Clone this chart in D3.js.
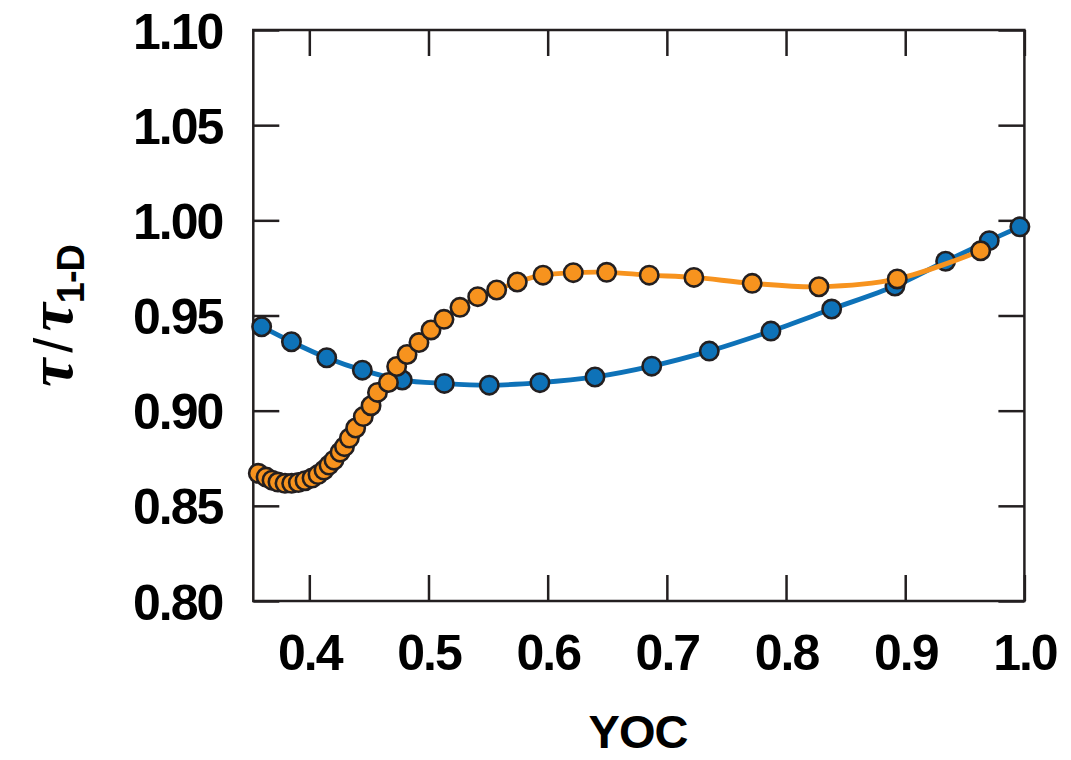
<!DOCTYPE html>
<html>
<head>
<meta charset="utf-8">
<script src="https://cdn.jsdelivr.net/npm/d3@7"></script>
<style>
  html, body { margin: 0; padding: 0; background: #fff; }
  svg { display: block; }
  .tick-label { font-family: "Liberation Sans", Arial, sans-serif; font-weight: bold; font-size: 50px; letter-spacing: -2px; fill: #000; }
</style>
</head>
<body>
<svg id="chart" width="1071" height="760"></svg>
<script>
// Normalized relaxation time vs YOC for two series
const blueX = [0.360, 0.385, 0.4146, 0.4445, 0.478, 0.5133, 0.551, 0.5935, 0.6397, 0.6873,
               0.7356, 0.7873, 0.8383, 0.8914, 0.9339, 0.9705, 0.9962];
const blueY = [0.9441, 0.9362, 0.9278, 0.9213, 0.9161, 0.9143, 0.9134, 0.9147, 0.9177, 0.9234,
               0.9313, 0.9418, 0.9534, 0.9655, 0.9785, 0.9893, 0.9966];

const orangeX = [0.3572, 0.3637, 0.3687, 0.3737, 0.3796, 0.3852, 0.3908, 0.3964, 0.4023, 0.4073,
                 0.4123, 0.4165, 0.4207, 0.4258, 0.4295, 0.4336, 0.4389, 0.4453, 0.4518, 0.4572,
                 0.4664, 0.4733, 0.4820, 0.4920, 0.5021, 0.5130, 0.5264, 0.5413, 0.5572, 0.5745,
                 0.5961, 0.6215, 0.6495, 0.6852, 0.7227, 0.7716, 0.8276, 0.8933, 0.9633];
const orangeY = [0.8671, 0.8651, 0.8635, 0.8625, 0.8618, 0.8618, 0.8622, 0.8632, 0.8646, 0.8664,
                 0.8688, 0.8714, 0.8740, 0.8782, 0.8811, 0.8856, 0.8909, 0.8969, 0.9026, 0.9096,
                 0.9148, 0.9232, 0.9295, 0.9358, 0.9424, 0.9480, 0.9543, 0.9599, 0.9634, 0.9676,
                 0.9712, 0.9725, 0.9727, 0.9712, 0.9700, 0.9669, 0.9651, 0.9692, 0.9840];

const xTicks = [0.4, 0.5, 0.6, 0.7, 0.8, 0.9, 1.0];
const yTicks = [0.80, 0.85, 0.90, 0.95, 1.00, 1.05, 1.10];

const BLUE = "#0e72b8";
const ORANGE = "#f7931e";
const INK = "#231f20";

const plotLeft = 253.3, plotRight = 1024.4, plotTop = 30, plotBottom = 601;
const svg = d3.select("#chart");

const x = d3.scaleLinear().domain([0.353, 1.0]).range([plotLeft, plotRight]);
const y = d3.scaleLinear().domain([0.80, 1.10]).range([plotBottom, plotTop]);

const tickLen = 26;

// Axes: labels on bottom/left, inward ticks on all four sides
const axisStyle = g => {
  g.select(".domain").remove();
  g.selectAll(".tick line").attr("stroke", INK).attr("stroke-width", 2.5);
};

svg.append("g").attr("transform", `translate(0,${plotBottom})`)
  .call(d3.axisBottom(x).tickValues(xTicks).tickSize(-tickLen)
        .tickFormat(d3.format(".1f")))
  .call(axisStyle)
  .call(g => g.selectAll("text").attr("class", "tick-label").attr("dy", 0).attr("y", 69));

svg.append("g").attr("transform", `translate(0,${plotTop})`)
  .call(d3.axisTop(x).tickValues(xTicks).tickSize(-tickLen).tickFormat(""))
  .call(axisStyle);

svg.append("g").attr("transform", `translate(${plotLeft},0)`)
  .call(d3.axisLeft(y).tickValues(yTicks).tickSize(-tickLen).tickFormat(d3.format(".2f")))
  .call(axisStyle)
  .call(g => g.selectAll("text").attr("class", "tick-label").attr("x", -31).attr("dy", "0.36em"));

svg.append("g").attr("transform", `translate(${plotRight},0)`)
  .call(d3.axisRight(y).tickValues(yTicks).tickSize(-tickLen).tickFormat(""))
  .call(axisStyle);

// Frame
svg.append("rect")
  .attr("x", plotLeft).attr("y", plotTop)
  .attr("width", plotRight - plotLeft).attr("height", plotBottom - plotTop)
  .attr("fill", "none").attr("stroke", INK).attr("stroke-width", 2.5);

const line = d3.line()
  .x(d => x(d[0])).y(d => y(d[1]))
  .curve(d3.curveCatmullRom.alpha(0.5));

function drawSeries(xs, ys, color) {
  const pts = xs.map((v, i) => [v, ys[i]]);
  svg.append("path").datum(pts)
    .attr("d", line)
    .attr("fill", "none").attr("stroke", color).attr("stroke-width", 4.8);
  svg.append("g").selectAll("circle").data(pts).join("circle")
    .attr("cx", d => x(d[0])).attr("cy", d => y(d[1]))
    .attr("r", 9.2)
    .attr("fill", color).attr("stroke", INK).attr("stroke-width", 2.6);
}

drawSeries(blueX, blueY, BLUE);
drawSeries(orangeX, orangeY, ORANGE);

// X title
svg.append("text")
  .attr("x", 638).attr("y", 748)
  .attr("text-anchor", "middle")
  .attr("font-family", "Liberation Sans, Arial, sans-serif")
  .attr("font-weight", "bold").attr("font-size", 47)
  .attr("letter-spacing", "-1px")
  .text("YOC");

// Y title: τ/τ with subscript 1-D, rotated
const yt = svg.append("text")
  .attr("transform", "translate(72,316) rotate(-90)")
  .attr("text-anchor", "middle")
  .attr("font-size", 64);
yt.append("tspan")
  .attr("font-family", "Liberation Serif, Times New Roman, serif")
  .attr("font-style", "italic").attr("font-weight", "bold")
  .text("τ");
yt.append("tspan")
  .attr("font-family", "Liberation Sans, Arial, sans-serif")
  .attr("font-size", 54).attr("dx", 6)
  .text("/");
yt.append("tspan")
  .attr("font-family", "Liberation Serif, Times New Roman, serif")
  .attr("font-style", "italic").attr("font-weight", "bold")
  .attr("dx", 6)
  .text("τ");
yt.append("tspan")
  .attr("font-family", "Liberation Sans, Arial, sans-serif")
  .attr("font-weight", "bold").attr("font-size", 38)
  .attr("dy", 12).attr("letter-spacing", "-1px")
  .text("1-D");
</script>
</body>
</html>
